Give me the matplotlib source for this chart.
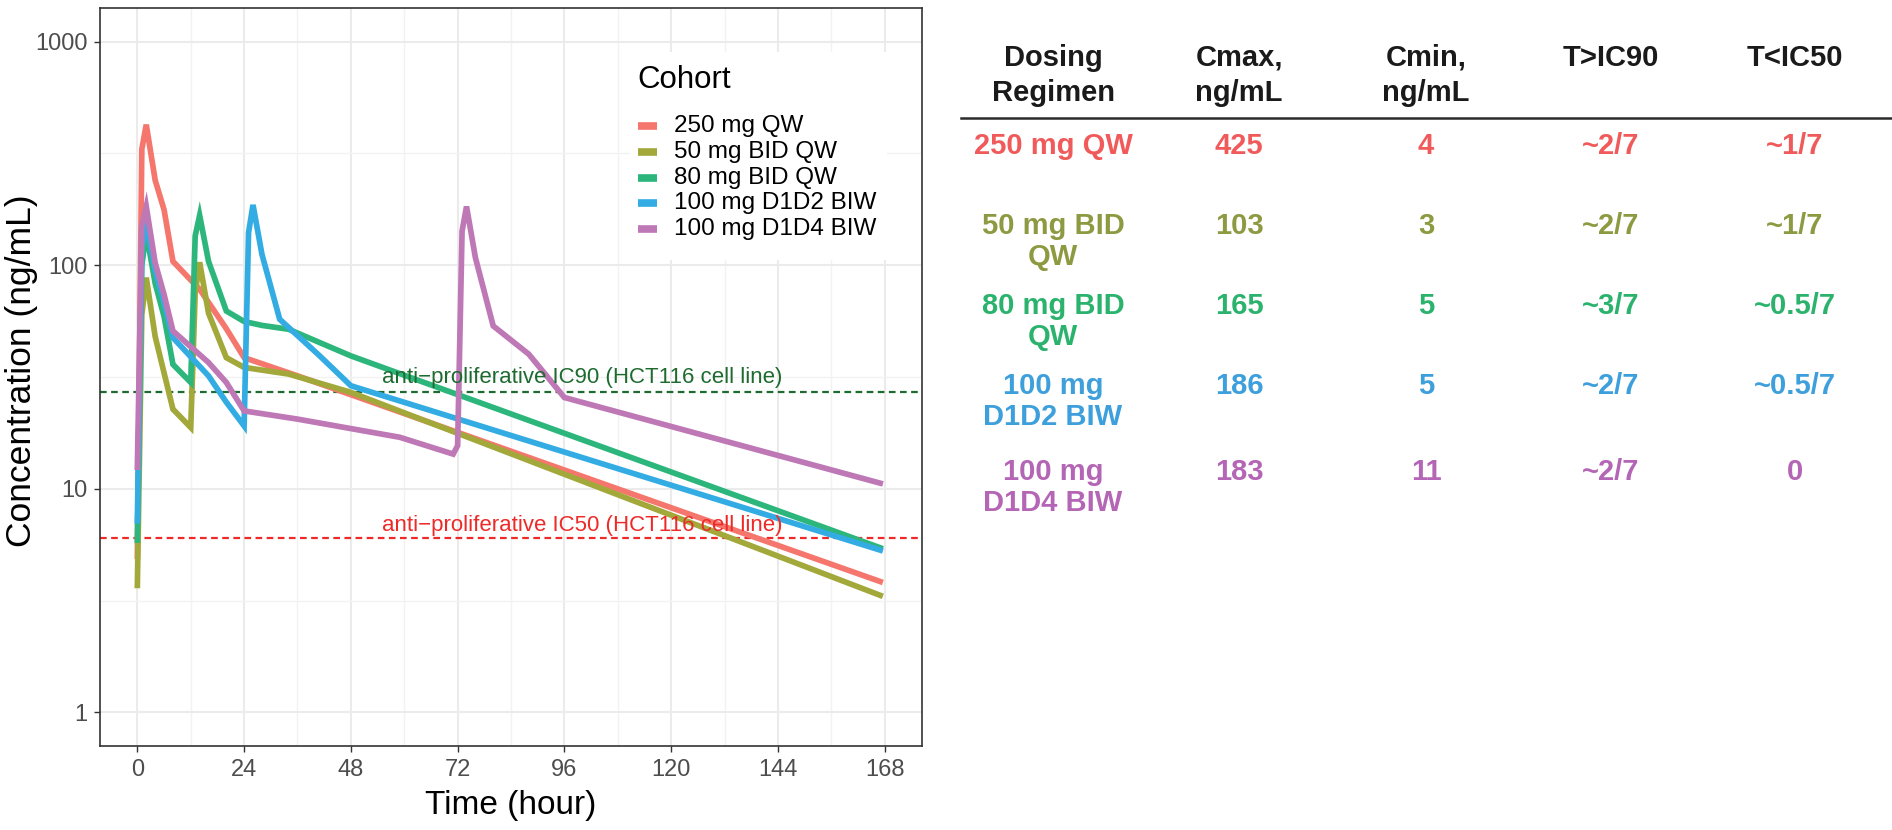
import matplotlib
matplotlib.use('Agg')
import matplotlib.pyplot as plt
from matplotlib.lines import Line2D
from matplotlib.patches import Rectangle
from matplotlib.ticker import FixedLocator, NullFormatter

plt.rcParams['font.family'] = ['Liberation Sans', 'DejaVu Sans']

# 浓度-时间数据 (ng/mL vs hour)
t_250qw = [0, 1, 2, 4, 6, 8, 14, 20, 24, 36, 167]
c_250qw = [5, 330, 425, 240, 177, 104, 78, 52, 38.6, 32, 3.85]

t_50bid = [0, 1, 2, 4, 6, 8, 12, 13, 14, 16, 20, 24, 34, 48, 167]
c_50bid = [3.7, 60, 88, 48, 33, 22.7, 18.8, 75, 103, 61, 38.6, 34.9, 32.6, 27, 3.34]

t_80bid = [0, 1, 2, 4, 6, 8, 12, 13, 14, 16, 20, 24, 28, 34, 48, 167]
c_80bid = [5.9, 100, 140, 83, 59, 36, 29.9, 135, 167, 104, 62.4, 56, 53.8, 51.7, 39.3, 5.45]

t_d1d2 = [0, 1, 2, 4, 6, 8, 16, 20, 24, 25, 26, 28, 32, 41, 48, 167]
c_d1d2 = [7.2, 120, 155, 95, 68, 47.4, 32, 24.4, 19.1, 140, 186, 112, 57.3, 39.3, 28.9, 5.32]

t_d1d4 = [0, 1, 2, 4, 6, 8, 16, 20, 24, 36, 59, 71, 72, 73, 74, 76, 80, 88, 96, 167]
c_d1d4 = [12.5, 149, 183, 102.5, 74, 50.8, 36.7, 29.9, 22.3, 20.5, 17, 14.3, 15.6, 142, 183, 108, 53.5, 40, 25.6, 10.6]

cohorts = ['250 mg QW', '50 mg BID QW', '80 mg BID QW', '100 mg D1D2 BIW', '100 mg D1D4 BIW']
line_colors = ['#F5766C', '#A3A83A', '#2DB67C', '#33ACE3', '#BF78B6']
text_colors = ['#F15A5A', '#8E9A42', '#2BB36E', '#3D9FDB', '#B465B5']

ic90 = 27
ic50 = 6

# 右侧表格
header = ['Dosing\nRegimen', 'Cmax,\nng/mL', 'Cmin,\nng/mL', 'T>IC90', 'T<IC50']
regimen = ['250 mg QW', '50 mg BID\nQW', '80 mg BID\nQW', '100 mg\nD1D2 BIW', '100 mg\nD1D4 BIW']
cmax = ['425', '103', '165', '186', '183']
cmin = ['4', '3', '5', '5', '11']
t_above_ic90 = ['~2/7', '~2/7', '~3/7', '~2/7', '~2/7']
t_below_ic50 = ['~1/7', '~1/7', '~0.5/7', '~0.5/7', '0']

W, H = 1892, 830
fig = plt.figure(figsize=(W / 100, H / 100), dpi=100)
ax = fig.add_axes([100 / W, 1 - 746 / H, 822 / W, 738 / H])


def px(x, y):
    # 像素坐标 -> figure 坐标
    return x / W, 1 - y / H


series = [(t_250qw, c_250qw), (t_50bid, c_50bid), (t_80bid, c_80bid),
          (t_d1d2, c_d1d2), (t_d1d4, c_d1d4)]
for (t, c), col in zip(series, line_colors):
    ax.plot(t, c, color=col, lw=4.1, solid_joinstyle='miter', zorder=3)

ax.set_yscale('log')
ax.set_ylim(10 ** -0.15, 10 ** 3.15)
ax.set_xlim(-8.4, 176.4)

ax.set_xticks(range(0, 169, 24))
ax.xaxis.set_minor_locator(FixedLocator(range(12, 169, 24)))
ax.set_yticks([1, 10, 100, 1000])
ax.set_yticklabels(['1', '10', '100', '1000'])
ax.yaxis.set_minor_locator(FixedLocator([10 ** 0.5, 10 ** 1.5, 10 ** 2.5]))
ax.yaxis.set_minor_formatter(NullFormatter())

ax.grid(which='major', color='#EBEBEB', lw=1.5, zorder=0)
ax.grid(which='minor', color='#F2F2F2', lw=1.0, zorder=0)
ax.set_axisbelow(True)
ax.tick_params(which='major', length=4, width=1, color='#333333', labelsize=17,
               labelcolor='#4D4D4D', pad=5)
ax.tick_params(which='minor', length=0)
for s in ax.spines.values():
    s.set_color('#333333')
    s.set_linewidth(1.2)

fig.text(*px(511, 805), 'Time (hour)', fontsize=24, ha='center', va='center')
fig.text(*px(22, 371), 'Concentration (ng/mL)', fontsize=25.5, rotation=90,
         ha='center', va='center')

ax.axhline(ic90, color='#1E6B30', ls=(0, (3, 2)), lw=1.6, zorder=2)
ax.axhline(ic50, color='#EE2A28', ls=(0, (3, 2)), lw=1.6, zorder=2)
ax.text(100, 31.5, 'anti\u2212proliferative IC90 (HCT116 cell line)', color='#1E6B30',
        fontsize=16, ha='center', va='center', zorder=4)
ax.text(100, 6.85, 'anti\u2212proliferative IC50 (HCT116 cell line)', color='#EE2A28',
        fontsize=16, ha='center', va='center', zorder=4)

# 图例 (手动放置)
fig.add_artist(Rectangle(px(630, 260), 257 / W, 208 / H, transform=fig.transFigure,
                         facecolor='white', edgecolor='none', zorder=5))
fig.text(*px(637, 80), 'Cohort', fontsize=22.5, ha='left', va='center', zorder=6)
for i, (lab, col) in enumerate(zip(cohorts, line_colors)):
    y = 126 + i * 25.8
    fig.add_artist(Line2D([638 / W, 657 / W], [1 - y / H] * 2, color=col, lw=5.5,
                          solid_capstyle='butt', transform=fig.transFigure, zorder=6))
    fig.text(*px(674, y), lab, fontsize=17.5, ha='left', va='center', zorder=6)


def table_text(x, y, s, **kw):
    fig.text(*px(x, y), s, ha='center', va='center', fontsize=21,
             fontweight='bold', **kw)


col_x = [1053, 1239, 1426, 1611, 1795]
for x, h in zip(col_x, header):
    for k, part in enumerate(h.split('\n')):
        table_text(x, 58 + k * 35, part, color='#1A1A1A')

fig.add_artist(Line2D([961 / W, 1.0], [1 - 118.5 / H] * 2,
                      color='#2B2B2B', lw=1.8, transform=fig.transFigure))

row_y = [146, 226, 306, 386, 472]
for i, y in enumerate(row_y):
    col = text_colors[i]
    for k, part in enumerate(regimen[i].split('\n')):
        table_text(col_x[0], y + k * 31, part, color=col)
    table_text(col_x[1], y, cmax[i], color=col)
    table_text(col_x[2], y, cmin[i], color=col)
    table_text(col_x[3], y, t_above_ic90[i], color=col)
    table_text(col_x[4], y, t_below_ic50[i], color=col)

fig.savefig('out.png', dpi=100, facecolor='white')
